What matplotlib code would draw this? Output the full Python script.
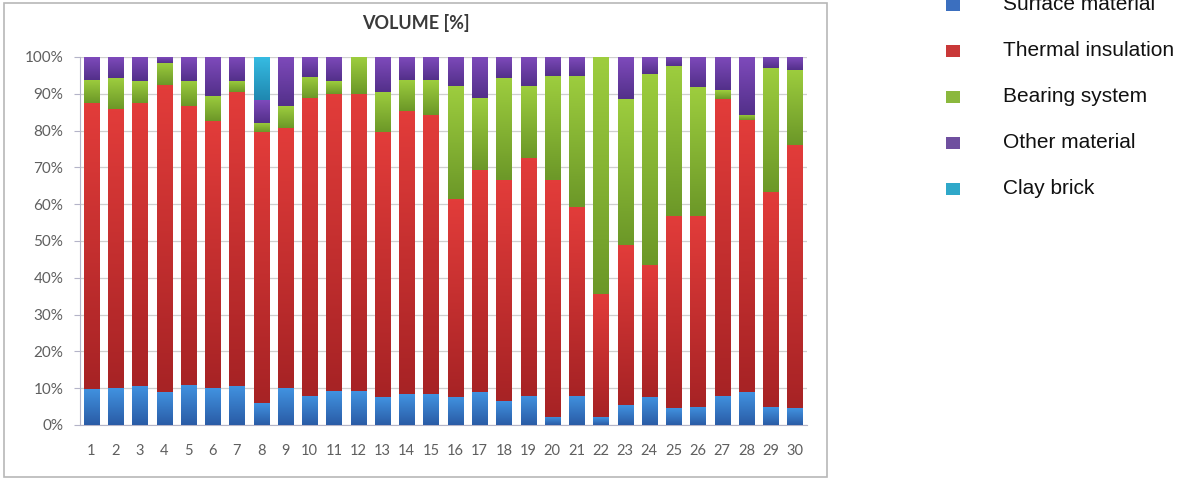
import numpy as np
import matplotlib
matplotlib.use("Agg")
import matplotlib.pyplot as plt
from matplotlib.colors import LinearSegmentedColormap
from matplotlib.patches import Rectangle
from matplotlib.ticker import PercentFormatter

# Volume shares (%) of each building component for 30 wall assemblies
categories = [str(i) for i in range(1, 31)]
surface_material = [9.8, 10.0, 10.7, 9.1, 11.0, 10.0, 10.7, 5.9, 10.0, 8.0,
                    9.2, 9.2, 7.5, 8.4, 8.3, 7.7, 8.9, 6.6, 8.0, 2.3,
                    8.0, 2.1, 5.3, 7.7, 4.6, 5.0, 8.0, 8.9, 4.8, 4.6]
thermal_insulation = [77.7, 76.0, 76.8, 83.4, 75.7, 72.7, 79.7, 73.6, 70.7, 80.8,
                      80.8, 80.8, 72.2, 76.8, 76.0, 53.6, 60.4, 60.0, 64.5, 64.3,
                      51.3, 33.6, 43.6, 35.7, 52.2, 51.8, 80.6, 74.0, 58.6, 71.5]
bearing_system = [6.3, 8.3, 5.9, 6.0, 6.9, 6.8, 3.0, 2.7, 5.9, 5.9,
                  3.4, 10.0, 10.9, 8.6, 9.5, 30.7, 19.5, 27.7, 19.5, 28.2,
                  35.6, 64.3, 39.7, 52.1, 40.7, 35.0, 2.3, 1.4, 33.6, 20.4]
other_material = [6.2, 5.7, 6.6, 1.5, 6.4, 10.5, 6.6, 6.2, 13.4, 5.3,
                  6.6, 0.0, 9.4, 6.2, 6.2, 8.0, 11.2, 5.7, 8.0, 5.2,
                  5.1, 0.0, 11.4, 4.5, 2.5, 8.2, 9.1, 15.7, 3.0, 3.5]
clay_brick = [0, 0, 0, 0, 0, 0, 0, 11.6, 0, 0,
              0, 0, 0, 0, 0, 0, 0, 0, 0, 0,
              0, 0, 0, 0, 0, 0, 0, 0, 0, 0]

series_names = ["Surface material", "Thermal insulation", "Bearing system",
                "Other material", "Clay brick"]
series_values = [surface_material, thermal_insulation, bearing_system,
                 other_material, clay_brick]

# (top colour, bottom colour) of each segment's vertical gradient
grad_colors = [("#4192e0", "#2a5ca6"),
               ("#e23c3a", "#a72325"),
               ("#9dcd3e", "#6c9828"),
               ("#7e4abb", "#53308a"),
               ("#36bbe2", "#1f88b0")]
legend_colors = ["#3b6fbf", "#c93838", "#8bb83d", "#6f4f9f", "#2fa8c9"]

W, H = 1179, 479
fig = plt.figure(figsize=(W / 100, H / 100), dpi=100)
fig.patch.set_facecolor("white")

# Chart frame
fig.add_artist(Rectangle((4 / W, 2 / H), (827 - 4) / W, (476 - 2) / H,
                         transform=fig.transFigure, fill=False,
                         edgecolor="#b8b8b8", linewidth=1.2))

ax = fig.add_axes([80 / W, (H - 425) / H, (807 - 80) / W, (425 - 57) / H])

x = np.arange(1, len(categories) + 1)
bar_w = 0.62
bottom = np.zeros(len(categories))
for vals, (ctop, cbot) in zip(series_values, grad_colors):
    vals = np.asarray(vals, dtype=float)
    bars = ax.bar(x, vals, bar_w, bottom=bottom, color=cbot, linewidth=0, zorder=2)
    cmap = LinearSegmentedColormap.from_list("seg", [cbot, ctop])
    grad = np.linspace(0, 1, 64).reshape(-1, 1)
    for p in bars:
        if p.get_height() <= 0:
            continue
        x0, y0 = p.get_x(), p.get_y()
        ax.imshow(grad, extent=[x0, x0 + p.get_width(), y0, y0 + p.get_height()],
                  origin="lower", cmap=cmap, aspect="auto", zorder=3,
                  interpolation="bilinear")
    bottom += vals

ax.set_xlim(0.53, 30.5)
ax.set_ylim(0, 100)
ax.set_xticks(x)
ax.set_xticklabels(categories)
ax.set_yticks(np.arange(0, 101, 10))
ax.yaxis.set_major_formatter(PercentFormatter(decimals=0))
ax.grid(axis="y", color="#cfcfcf", linewidth=0.9, zorder=0)
ax.set_axisbelow(True)
for side in ("top", "right"):
    ax.spines[side].set_visible(False)
for side in ("left", "bottom"):
    ax.spines[side].set_color("#b4b4c8")
ax.tick_params(axis="x", length=0, pad=14, labelsize=10.5, labelcolor="#5f5f5f")
ax.tick_params(axis="y", length=4, color="#b4b4c8", pad=8, labelsize=11,
               labelcolor="#5f5f5f")
for lab in ax.get_xticklabels() + ax.get_yticklabels():
    lab.set_fontfamily("Lato")

fig.text(416 / W, 1 - 23 / H, "VOLUME [%]", ha="center", va="center",
         fontsize=13, fontweight="bold", color="#3a3a3a", family="Lato")

# Legend to the right of the chart frame
legend_y = [5, 51, 97, 143, 189]
for name, col, yc in zip(series_names, legend_colors, legend_y):
    fig.add_artist(Rectangle(((953 - 7) / W, 1 - (yc + 6) / H), 14 / W, 12 / H,
                             transform=fig.transFigure, facecolor=col,
                             edgecolor="none"))
    fig.text(1003 / W, 1 - yc / H, name, ha="left", va="center",
             fontsize=15, family="Liberation Sans", color="#111111")

fig.savefig("out.png", dpi=100)
